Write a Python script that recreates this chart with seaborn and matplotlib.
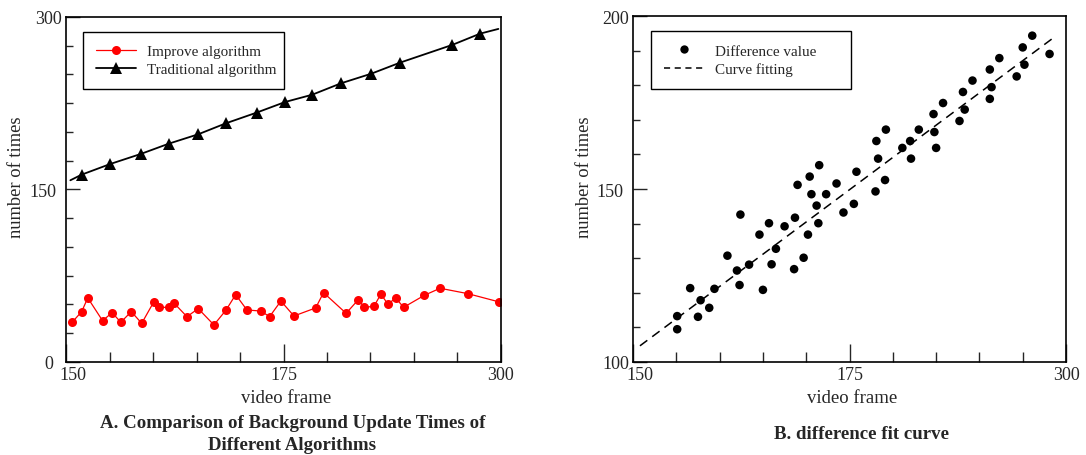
import matplotlib
matplotlib.use("Agg")
import matplotlib.pyplot as plt
import matplotlib.transforms as mtransforms
from matplotlib.lines import Line2D
from matplotlib.ticker import MultipleLocator, FixedLocator
import numpy as np
import pandas as pd
import seaborn as sns

# ---- data ----
improve_x = [150.7, 151.8, 152.5, 154.2, 155.3, 156.3, 157.5, 158.7, 160.1, 160.7,
             161.8, 162.4, 163.9, 165.2, 167.0, 168.4, 169.5, 170.8, 172.4, 173.4,
             174.7, 176.2, 178.7, 179.6, 182.2, 183.6, 184.3, 185.4, 186.2, 187.0,
             187.9, 188.8, 191.2, 193.0, 196.2, 199.8]
improve_y = [34.5, 43.8, 55.7, 35.9, 42.9, 34.5, 43.8, 33.6, 52.4, 47.5,
             47.5, 51.3, 39.4, 46.4, 32.2, 45.2, 58.5, 45.2, 44.3, 39.4,
             53.0, 40.0, 47.0, 60.3, 42.3, 54.2, 47.5, 48.4, 59.1, 50.2,
             55.7, 47.5, 58.0, 64.1, 59.4, 52.2]

# first and last entries are the line ends (no marker)
trad_x = [150.5, 151.8, 155.1, 158.6, 161.8, 165.2, 168.4, 171.9, 175.2, 178.3,
          181.6, 185.1, 188.4, 194.4, 197.6, 199.7]
trad_y = [158.0, 162.9, 172.2, 180.9, 189.8, 198.0, 207.6, 216.8, 226.1, 232.4,
          242.3, 250.7, 260.3, 275.7, 285.5, 289.6]

diff_x = [196.1, 195.0, 198.1, 192.3, 195.2, 191.2, 194.3, 189.2, 188.1, 191.4,
          191.2, 185.8, 188.3, 184.7, 187.7, 179.2, 183.0, 184.8, 178.1, 182.0,
          181.1, 185.0, 178.3, 182.1, 171.5, 175.8, 170.4, 169.0, 173.5, 179.1,
          170.6, 172.3, 178.0, 171.2, 174.3, 175.5, 162.4, 168.7, 165.7, 171.4,
          167.5, 164.6, 170.2, 166.5, 160.9, 169.7, 163.4, 166.0, 162.0, 168.6,
          156.6, 159.4, 162.3, 165.0, 157.8, 158.8, 155.1, 157.5, 155.1]
diff_y = [194.4, 191.0, 189.1, 187.9, 186.0, 184.6, 182.6, 181.4, 178.1, 179.5,
          176.1, 174.9, 173.0, 171.7, 169.7, 167.2, 167.2, 166.5, 163.9, 163.9,
          161.9, 161.9, 158.8, 158.8, 156.9, 155.0, 153.6, 151.2, 151.6, 152.6,
          148.5, 148.5, 149.3, 145.2, 143.2, 145.7, 142.6, 141.7, 140.1, 140.1,
          139.2, 136.8, 136.8, 132.7, 130.7, 130.1, 128.1, 128.2, 126.4, 126.8,
          121.3, 121.1, 122.2, 120.8, 117.8, 115.6, 113.2, 113.0, 109.4]

fit_x = [150.8, 198.5]
fit_y = [104.6, 193.7]

x_ticks = [150, 175, 200]
x_ticklabels = ["150", "175", "300"]

sns.set_style("ticks")
plt.rcParams['font.family'] = ['Liberation Serif', 'DejaVu Serif']
plt.rcParams['axes.edgecolor'] = 'black'
plt.rcParams['axes.linewidth'] = 1.2

fig = plt.figure(figsize=(10.86, 4.56), dpi=100)
ax1 = fig.add_axes([0.0608, 0.204, 0.4005, 0.7566])
ax2 = fig.add_axes([0.5829, 0.2046, 0.3987, 0.7574])

df_imp = pd.DataFrame({'x': improve_x, 'y': improve_y})
df_trad = pd.DataFrame({'x': trad_x, 'y': trad_y})
df_diff = pd.DataFrame({'x': diff_x, 'y': diff_y})
df_fit = pd.DataFrame({'x': fit_x, 'y': fit_y})

# ---- left panel ----
sns.lineplot(data=df_imp, x='x', y='y', ax=ax1, color='red', linewidth=0.9,
             marker='o', markersize=6.5, markeredgewidth=0, sort=False)
sns.lineplot(data=df_trad, x='x', y='y', ax=ax1, color='black', linewidth=1.3,
             marker='^', markersize=8, markeredgewidth=0, sort=False,
             markevery=list(range(1, len(trad_x) - 1)))
ax1.set_xlim(150, 200)
ax1.set_ylim(0, 300)
ax1.yaxis.set_major_locator(FixedLocator([0, 150, 300]))
ax1.yaxis.set_minor_locator(MultipleLocator(25))

handles1 = [Line2D([], [], color='red', lw=0.9, marker='o', markersize=6.5, markeredgewidth=0),
            Line2D([], [], color='black', lw=1.3, marker='^', markersize=8, markeredgewidth=0)]
leg1 = ax1.legend(handles1, ['Improve algorithm', 'Traditional algorithm'],
                  loc='upper left', bbox_to_anchor=(0.039, 0.5, 0.462, 0.457),
                  mode='expand', borderaxespad=0, fontsize=10.9,
                  frameon=True, fancybox=False, framealpha=1, edgecolor='black',
                  borderpad=0.85, handlelength=2.65, handletextpad=0.7, labelspacing=0.3)
leg1.get_frame().set_linewidth(1.0)

# ---- right panel ----
sns.scatterplot(data=df_diff, x='x', y='y', ax=ax2, color='black', s=38,
                edgecolor='none')
sns.lineplot(data=df_fit, x='x', y='y', ax=ax2, color='black', linewidth=1.1,
             dashes=False, linestyle=(0, (6, 4)))
ax2.set_xlim(150, 200)
ax2.set_ylim(100, 200)
ax2.yaxis.set_major_locator(FixedLocator([100, 150, 200]))
ax2.yaxis.set_minor_locator(MultipleLocator(10))

handles2 = [Line2D([], [], color='black', lw=0, marker='o', markersize=6, markeredgewidth=0),
            Line2D([], [], color='black', lw=1.1, linestyle=(0, (4, 3)))]
leg2 = ax2.legend(handles2, ['Difference value', 'Curve fitting'],
                  loc='upper left', bbox_to_anchor=(0.0425, 0.5, 0.461, 0.4566),
                  mode='expand', borderaxespad=0, fontsize=10.9,
                  frameon=True, fancybox=False, framealpha=1, edgecolor='black',
                  borderpad=0.85, handlelength=2.65, handletextpad=0.7, labelspacing=0.3)
leg2.get_frame().set_linewidth(1.0)

label_coords = {ax1: ((0.505, -0.078), (-0.094, 0.538)),
                ax2: ((0.506, -0.078), (-0.093, 0.538))}


def nudge(lbl, dx_px):
    lbl.set_transform(lbl.get_transform()
                      + mtransforms.ScaledTranslation(dx_px / 100, 0, fig.dpi_scale_trans))


for ax in (ax1, ax2):
    ax.xaxis.set_major_locator(FixedLocator(x_ticks))
    ax.set_xticklabels(x_ticklabels)
    ax.xaxis.set_minor_locator(MultipleLocator(5))
    ax.tick_params(axis='x', which='major', direction='in', length=13, width=1,
                   labelsize=13, pad=3, top=False)
    ax.tick_params(axis='x', which='minor', direction='in', length=7, width=1, top=False)
    ax.tick_params(axis='y', which='major', direction='in', length=10, width=1,
                   labelsize=13, pad=3, right=False)
    ax.tick_params(axis='y', which='minor', direction='in', length=5, width=1, right=False)
    ax.set_xlabel('video frame', fontsize=13.5)
    ax.set_ylabel('number of times', fontsize=13.3)
    (xlx, xly), (ylx, yly) = label_coords[ax]
    ax.xaxis.set_label_coords(xlx, xly)
    ax.yaxis.set_label_coords(ylx, yly)
    for s in ax.spines.values():
        s.set_visible(True)
        s.set_color('black')
        s.set_linewidth(1.2)
    # small nudges of individual tick labels as in the reference
    nudge(ax.get_xticklabels()[0], 7)
    nudge(ax.get_yticklabels()[1], -5)

nudge(ax1.get_yticklabels()[0], -9)

fig.text(292.5 / 1086, 1 - 424 / 456, 'A. Comparison of Background Update Times of',
         ha='center', va='center', fontsize=13.6, fontweight='bold')
fig.text(292.5 / 1086, 1 - 446 / 456, 'Different Algorithms',
         ha='center', va='center', fontsize=13.6, fontweight='bold')
fig.text(861 / 1086, 1 - 435 / 456, 'B. difference fit curve',
         ha='center', va='center', fontsize=13.6, fontweight='bold')

fig.savefig('out.png', dpi=100)
